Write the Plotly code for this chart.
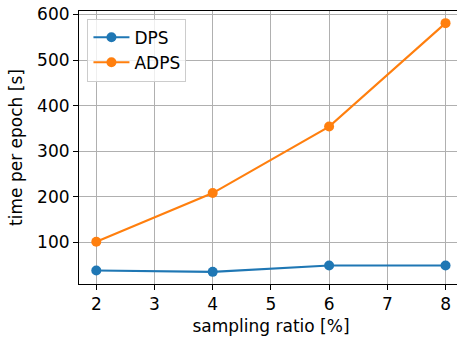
import plotly.graph_objects as go

ratios = [2, 4, 6, 8]
dps = [38, 35, 49, 49]
adps = [101, 208, 354, 581]
x_ticks = [2, 3, 4, 5, 6, 7, 8]
y_ticks = [100, 200, 300, 400, 500, 600]

font = dict(family="DejaVu Sans", size=17, color="black")

fig = go.Figure()
fig.add_trace(go.Scatter(x=ratios, y=dps, name="DPS", mode="lines+markers",
                         line=dict(color="#1f77b4", width=2.1),
                         marker=dict(size=10, color="#1f77b4")))
fig.add_trace(go.Scatter(x=ratios, y=adps, name="ADPS", mode="lines+markers",
                         line=dict(color="#ff7f0e", width=2.1),
                         marker=dict(size=10, color="#ff7f0e")))

axis_common = dict(showgrid=True, gridcolor="#b0b0b0", gridwidth=1.1,
                   showline=True, linecolor="black", linewidth=1.1,
                   ticks="outside", ticklen=5, tickwidth=1.1, tickcolor="black",
                   zeroline=False, tickfont=font)

fig.update_layout(
    width=463, height=337,
    margin=dict(l=79, r=0, t=11, b=53),
    paper_bgcolor="white", plot_bgcolor="white",
    font=font,
    showlegend=True,
    legend=dict(x=0.022, y=0.972, xanchor="left", yanchor="top",
                bgcolor="rgba(255,255,255,0.8)", bordercolor="#cccccc",
                borderwidth=1, font=font, tracegroupgap=0, itemwidth=36),
    xaxis=dict(range=[1.703, 8.3], tickvals=x_ticks, mirror=True,
               title=dict(text="sampling ratio [%]", font=font, standoff=6),
               **axis_common),
    yaxis=dict(range=[8.3, 607.7], tickvals=y_ticks, mirror=True,
               title=dict(text="time per epoch [s]", font=font, standoff=10),
               **axis_common),
)

fig.write_html(
    "out.html",
    config={"displayModeBar": False},
    post_script="document.body.style.margin='0';document.body.style.overflow='hidden';"
                "document.documentElement.style.overflow='hidden';",
)
